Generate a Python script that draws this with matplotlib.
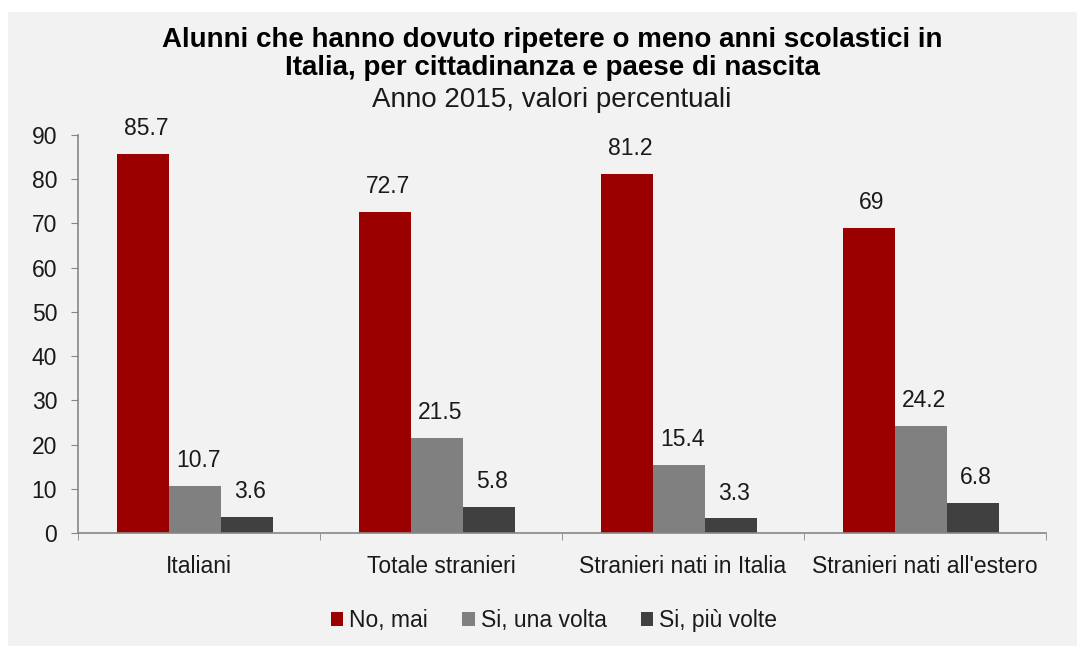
import numpy as np
import matplotlib
matplotlib.use('Agg')
import matplotlib.pyplot as plt
from matplotlib.patches import Rectangle

plt.rcParams['font.family'] = ['Liberation Sans', 'DejaVu Sans']

# ── Dati ──
categorie = ['Italiani', 'Totale stranieri', 'Stranieri nati in Italia',
             "Stranieri nati all'estero"]
serie = ['No, mai', 'Si, una volta', 'Si, più volte']
no_mai = [85.7, 72.7, 81.2, 69]
una_volta = [10.7, 21.5, 15.4, 24.2]
piu_volte = [3.6, 5.8, 3.3, 6.8]
etichette = [['85.7', '72.7', '81.2', '69'],
             ['10.7', '21.5', '15.4', '24.2'],
             ['3.6', '5.8', '3.3', '6.8']]

colori = ['#9a0000', '#808080', '#404040']
SFONDO = '#f2f2f2'
ASSE = '#868686'
TESTO = '#1a1a1a'
FS = 16.5

fig = plt.figure(figsize=(10.77, 6.46), dpi=100)
fig.patch.set_facecolor('white')
# pannello grigio del grafico
fig.patches.append(Rectangle((8 / 1077, 0), 1, 1 - 12 / 646,
                             transform=fig.transFigure, facecolor=SFONDO,
                             edgecolor='none', zorder=-10))

ax = fig.add_axes([78 / 1077, 1 - 533 / 646, (1046 - 78) / 1077, (533 - 135) / 646])
ax.set_facecolor(SFONDO)

x = np.arange(len(categorie))
w = 0.215
for i, (vals, col, lab) in enumerate(zip([no_mai, una_volta, piu_volte], colori, serie)):
    pos = x + (i - 1) * w - 0.015
    ax.bar(pos, vals, width=w, color=col, label=lab, zorder=2)
    for px, v, t in zip(pos, vals, etichette[i]):
        ax.annotate(t, (px, v), xytext=(2, 10), textcoords='offset points',
                    ha='center', va='bottom', fontsize=FS, color=TESTO)

ax.set_xlim(-0.5, len(categorie) - 0.5)
ax.set_ylim(0, 90)
ax.set_yticks(range(0, 91, 10))
ax.set_xticks(x)
ax.set_xticklabels(categorie)
ax.set_xticks(np.arange(-0.5, len(categorie), 1), minor=True)
ax.tick_params(axis='x', which='major', length=0, pad=16, labelsize=FS, labelcolor=TESTO)
ax.tick_params(axis='x', which='minor', length=5, color=ASSE, direction='out')
ax.tick_params(axis='y', length=5, color=ASSE, pad=10, labelsize=FS, labelcolor=TESTO)

for s in ['top', 'right']:
    ax.spines[s].set_visible(False)
for s in ['left', 'bottom']:
    ax.spines[s].set_color(ASSE)
    ax.spines[s].set_linewidth(1.2)

fig.text(552 / 1077, 1 - 47 / 646,
         'Alunni che hanno dovuto ripetere o meno anni scolastici in',
         ha='center', va='baseline', fontsize=20, fontweight='bold', color='black')
fig.text(552 / 1077, 1 - 75 / 646, 'Italia, per cittadinanza e paese di nascita',
         ha='center', va='baseline', fontsize=20, fontweight='bold', color='black')
fig.text(552 / 1077, 1 - 107 / 646, 'Anno 2015, valori percentuali',
         ha='center', va='baseline', fontsize=20, color=TESTO)

leg = fig.legend(loc='center', bbox_to_anchor=(554 / 1077, 1 - 621 / 646), ncol=3,
                 frameon=False, fontsize=FS, handlelength=0.55, handleheight=0.55,
                 handletextpad=0.25, columnspacing=1.5)
for t in leg.get_texts():
    t.set_color(TESTO)

fig.savefig('out.png', dpi=100, facecolor=fig.get_facecolor())
